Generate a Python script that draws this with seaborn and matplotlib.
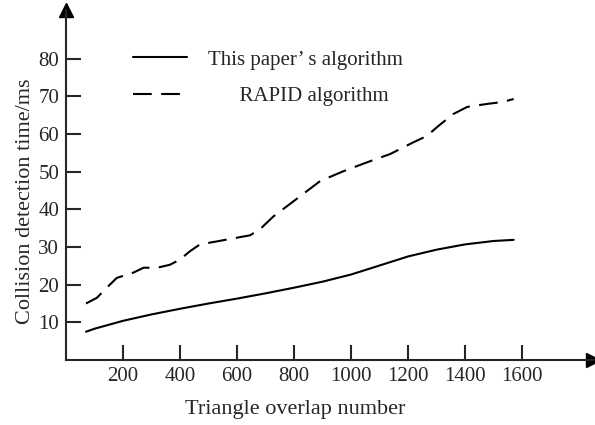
import pandas as pd
import matplotlib
matplotlib.use("Agg")
import matplotlib.pyplot as plt
import seaborn as sns

sns.set_style("ticks")
plt.rcParams['font.family'] = ['Liberation Serif', 'DejaVu Serif']

# ===============================
# Data
# ===============================

ours_x = [70, 100, 200, 300, 400, 500, 600, 700, 800, 900, 1000, 1100, 1200, 1300, 1400, 1500, 1570]
ours_y = [7.5, 8.3, 10.4, 12.1, 13.6, 15.0, 16.3, 17.7, 19.2, 20.8, 22.7, 25.1, 27.5, 29.3, 30.7, 31.6, 31.9]

rapid_x = [70, 108, 143, 178, 236, 272, 320, 365, 400, 435, 470, 530, 587, 645, 680,
           727, 797, 891, 972, 1056, 1137, 1218, 1266, 1302, 1358, 1407, 1477, 1530, 1570]
rapid_y = [15.0, 16.5, 19.2, 21.8, 23.2, 24.5, 24.5, 25.3, 26.7, 28.9, 30.7, 31.5, 32.3, 33.1, 34.7,
           38.1, 42.1, 47.5, 50.1, 52.5, 54.7, 57.8, 59.5, 61.9, 65.3, 67.2, 68.0, 68.5, 69.3]

x_ticks = [200, 400, 600, 800, 1000, 1200, 1400, 1600]
y_ticks = [10, 20, 30, 40, 50, 60, 70, 80]

ours_df = pd.DataFrame({'n': ours_x, 't': ours_y})
rapid_df = pd.DataFrame({'n': rapid_x, 't': rapid_y})

# ===============================
# Plot
# ===============================

fig = plt.figure(figsize=(5.95, 4.25), dpi=100)
ax = fig.add_axes([0.111, 0.153, 0.886, 0.824])

sns.lineplot(x='n', y='t', data=ours_df, ax=ax, color='black', linewidth=1.5,
             label='This paper’ s algorithm')
sns.lineplot(x='n', y='t', data=rapid_df, ax=ax, color='black', linewidth=1.5,
             label='      RAPID algorithm', dashes=False)
ax.lines[1].set_dashes((9, 4.5))

ax.set_xlim(0, 1849)
ax.set_ylim(0, 93)
ax.set_xticks(x_ticks)
ax.set_yticks(y_ticks)

for side in ['top', 'right']:
    ax.spines[side].set_visible(False)
for side in ['left', 'bottom']:
    ax.spines[side].set_linewidth(1.5)

ax.tick_params(direction='in', length=11, width=1.5, labelsize=15, pad=5)

# arrow heads on the axes
ax.plot(1, 0, '>k', markersize=10, transform=ax.get_yaxis_transform(), clip_on=False)
ax.plot(0, 1, '^k', markersize=10, transform=ax.get_xaxis_transform(), clip_on=False)

ax.set_xlabel("Triangle overlap number", fontsize=16, labelpad=10, x=0.434)
ax.set_ylabel("Collision detection time/ms", fontsize=16, labelpad=2, y=0.454)

leg = ax.legend(frameon=False, fontsize=15, loc='upper left',
                bbox_to_anchor=(133 / 595, 1 - 50 / 425), bbox_transform=fig.transFigure,
                borderpad=0, borderaxespad=0, handlelength=2.6, handletextpad=1.0,
                labelspacing=0.8)

plt.savefig("out.png", dpi=100)
